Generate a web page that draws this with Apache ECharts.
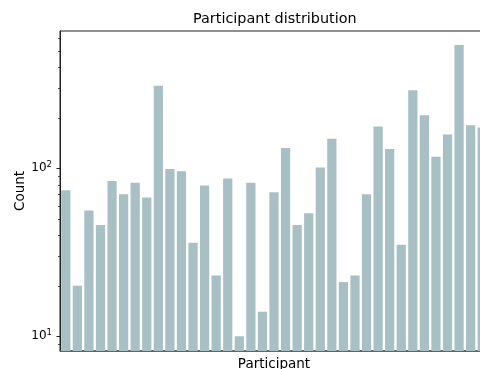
<!DOCTYPE html>
<html><head><meta charset="utf-8">
<script src="https://cdn.jsdelivr.net/npm/echarts@6/dist/echarts.min.js"></script>
<style>html,body{margin:0;padding:0;background:#fff}#c{width:480px;height:369px}</style>
</head><body><div id="c"></div>
<script>
const participants = ['P01','P02','P03','P04','P05','P06','P07','P08','P09','P10','P11','P12','P13','P14','P15','P16','P17','P18','P19','P20','P21','P22','P23','P24','P25','P26','P27','P28','P29','P30','P31','P32','P33','P34','P35','P36','P37'];
const counts = [74,20,56,46,84,70,82,67,310,99,96,36,79,23,87,10,82,14,72,132,46,54,101,150,21,23,70,177,130,35,291,207,117,159,541,180,175];
const yMajorTicks = [10, 100];
const yMinorTicks = [9, 20, 30, 40, 50, 60, 70, 80, 90, 200, 300, 400, 500, 600];

const FONT = 'DejaVu Sans';
const chart = echarts.init(document.getElementById('c'), null, {renderer: 'canvas'});
chart.setOption({
  animation: false,
  backgroundColor: '#fff',
  title: {
    text: 'Participant distribution',
    left: 193, top: 12.5, padding: 0,
    textStyle: {fontFamily: FONT, fontSize: 14.4, fontWeight: 'normal', color: '#000'}
  },
  grid: {left: 60, top: 31, width: 428, height: 320, show: true, borderColor: '#222', borderWidth: 1,
         containLabel: false, outerBoundsMode: 'none'},
  xAxis: {
    type: 'category', data: participants,
    axisLabel: {show: false}, axisTick: {show: false},
    axisLine: {lineStyle: {color: '#555', width: 1.5}},
    name: 'Participant', nameLocation: 'middle', nameGap: 6.5, nameMoveOverlap: false,
    nameTextStyle: {fontFamily: FONT, fontSize: 13.5, color: '#000'}
  },
  yAxis: {
    type: 'log', logBase: 10, min: 8.17, max: 656,
    splitLine: {show: false},
    axisTick: {show: false},
    axisLine: {show: true, lineStyle: {color: '#222', width: 1}},
    axisLabel: {
      margin: 8,
      formatter: function (v) {
        const e = Math.log10(v), r = Math.round(e);
        if (Math.abs(e - r) > 1e-6) return '';
        return '{b|10}{s|' + r + '}';
      },
      rich: {
        b: {fontFamily: FONT, fontSize: 12, color: '#000', lineHeight: 16},
        s: {fontFamily: FONT, fontSize: 8.5, color: '#000', verticalAlign: 'top', lineHeight: 10}
      }
    },
    name: 'Count', nameLocation: 'middle', nameGap: 33, nameMoveOverlap: false,
    nameTextStyle: {fontFamily: FONT, fontSize: 13.5, color: '#000'}
  },
  series: [{
    type: 'bar', data: counts, barCategoryGap: '20%',
    itemStyle: {color: '#a8c0c4'}
  }]
});

const graphics = [];
yMajorTicks.forEach(v => {
  const y = Math.round(chart.convertToPixel({yAxisIndex: 0}, v)) + 0.5;
  graphics.push({type: 'line', shape: {x1: 56.5, y1: y, x2: 60, y2: y}, style: {stroke: '#222', lineWidth: 1}, silent: true});
});
yMinorTicks.forEach(v => {
  const y = Math.round(chart.convertToPixel({yAxisIndex: 0}, v)) + 0.5;
  graphics.push({type: 'line', shape: {x1: 58, y1: y, x2: 60, y2: y}, style: {stroke: '#222', lineWidth: 0.8}, silent: true});
});
chart.setOption({graphic: graphics});
</script>
</body></html>
